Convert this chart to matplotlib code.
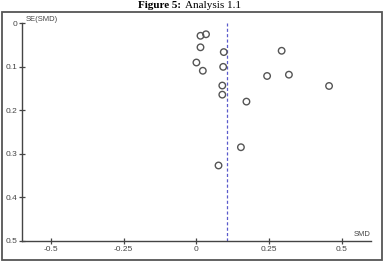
import matplotlib
matplotlib.use("Agg")
import matplotlib.pyplot as plt
from matplotlib.patches import Rectangle

# funnel plot data
smd = [0.014, 0.033, 0.014, 0.094, 0.293, 0.0, 0.092, 0.022, 0.243, 0.318,
       0.456, 0.089, 0.089, 0.172, 0.153, 0.076]
se = [0.0285, 0.025, 0.055, 0.066, 0.063, 0.090, 0.100, 0.109, 0.121, 0.118,
      0.144, 0.143, 0.164, 0.180, 0.285, 0.327]
pooled = 0.105

x_ticks = [-0.5, -0.25, 0, 0.25, 0.5]
x_labels = ["-0.5", "-0.25", "0", "0.25", "0.5"]
y_ticks = [0, 0.1, 0.2, 0.3, 0.4, 0.5]
y_labels = ["0", "0.1", "0.2", "0.3", "0.4", "0.5"]

plt.rcParams["font.family"] = ["Liberation Sans", "DejaVu Sans"]

fig = plt.figure(figsize=(3.84, 2.63), dpi=100)
ax = fig.add_axes([0.057, 0.085, 0.909, 0.826])

ax.scatter(smd, se, s=22, facecolors="none", edgecolors="#555555", linewidths=1.0, zorder=3)
ax.axvline(pooled, color="#5a5acc", linestyle=(0, (2.5, 1.8)), linewidth=0.9)

ax.set_xlim(-0.6, 0.6)
ax.set_ylim(0.5, 0)
ax.set_xticks(x_ticks)
ax.set_xticklabels(x_labels)
ax.set_yticks(y_ticks)
ax.set_yticklabels(y_labels)

for s in ["top", "right"]:
    ax.spines[s].set_visible(False)
for s in ["left", "bottom"]:
    ax.spines[s].set_color("#444444")
    ax.spines[s].set_linewidth(1.0)
ax.tick_params(direction="inout", length=5, width=0.9, color="#444444",
               labelsize=6, labelcolor="#444444", pad=1)

ax.text(0.012, 1.0, "SE(SMD)", transform=ax.transAxes, fontsize=5.5,
        color="#444444", ha="left", va="bottom")
ax.text(1.0, 0.012, "SMD", transform=ax.transAxes, fontsize=5.5,
        color="#444444", ha="right", va="bottom")

# outer frame
fig.patches.append(Rectangle((2 / 384, 1 - 259.5 / 263), 379.5 / 384, 248 / 263,
                             transform=fig.transFigure, fill=False,
                             edgecolor="#555555", linewidth=1.3))

fig.text(0.471, 0.971, "Figure 5:", fontfamily="Liberation Serif", fontweight="bold",
         fontsize=8, ha="right", va="baseline")
fig.text(0.482, 0.971, "Analysis 1.1", fontfamily="Liberation Serif",
         fontsize=8, ha="left", va="baseline")

fig.savefig("out.png", dpi=100)
